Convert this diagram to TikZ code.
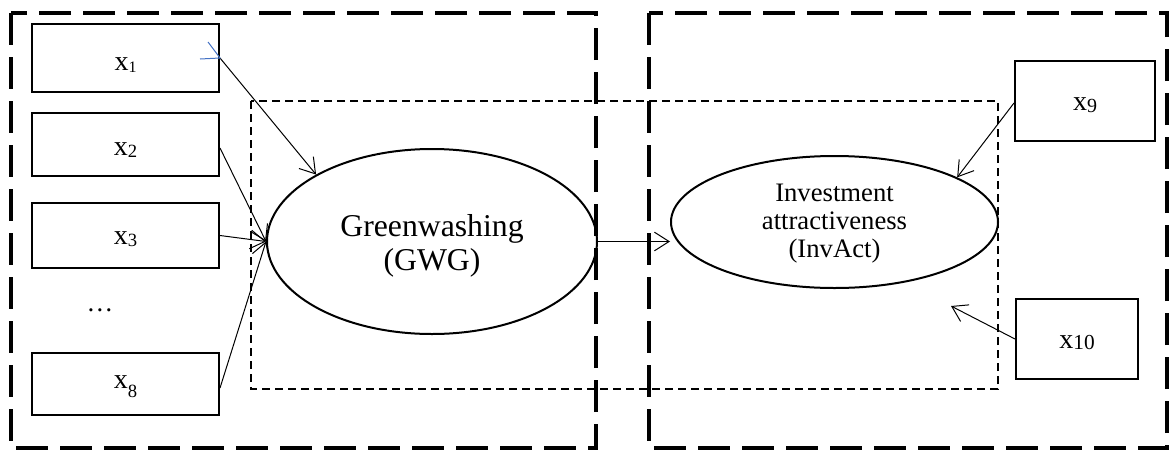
\documentclass[tikz,border=0pt]{standalone}
\usepackage{fontspec}
\setmainfont{Liberation Serif}
\usetikzlibrary{arrows.meta,shapes.geometric}
\definecolor{tickblue}{RGB}{68,114,196}
% #1 subscript, #2 subscript size, #3 subscript lowering, #4 baseline below centre
\newcommand{\xlab}[4]{\raisebox{-#4}[0pt][0pt]{\fontsize{21}{24}\selectfont x\raisebox{-#3}{\fontsize{#2}{#2}\selectfont #1}}}
\begin{document}
\begin{tikzpicture}[x=0.75pt,y=-0.75pt,
  var/.style={draw,line width=1.5pt,rectangle,inner sep=0pt},
  lat/.style={draw,line width=1.5pt,ellipse,inner sep=0pt},
  lattext/.style={align=center,inner sep=0pt},
  grp/.style={line width=3pt,dash pattern=on 24pt off 9pt},
  innergrp/.style={line width=1.3pt,dash pattern=on 6pt off 3.75pt},
  link/.style={line width=0.75pt,-{Straight Barb[length=11pt,width=14pt]}}]
\useasboundingbox (0,0) rectangle (1170,450);
% group boxes
\draw[grp] (11,13) rectangle (596,448);
\draw[grp] (649,13) rectangle (1167,448);
\draw[innergrp] (251,101) rectangle (998,389);
% indicator boxes
\node[var,minimum width=140.25pt,minimum height=51pt] (x1) at (125.5,58) {\xlab{1}{12}{1.5pt}{9.5pt}};
\node[var,minimum width=140.25pt,minimum height=47.25pt] (x2) at (125.5,144.5) {\xlab{2}{14}{1.5pt}{7.9pt}};
\node[var,minimum width=140.25pt,minimum height=48.75pt] (x3) at (125.5,235.5) {\xlab{3}{14}{1.5pt}{6.4pt}};
\node (dots) at (100,310) {\fontsize{20}{24}\selectfont …};
\node[var,minimum width=140.25pt,minimum height=46.5pt] (x8) at (125.5,384) {\xlab{8}{14}{7pt}{3pt}};
\node[var,minimum width=105pt,minimum height=60pt] (x9) at (1085,101) {\xlab{9}{15}{2pt}{6.75pt}};
\node[var,minimum width=91.5pt,minimum height=60pt] (x10) at (1077,339) {\xlab{10}{16}{1pt}{6.75pt}};
% latent variables
\node[lat,minimum width=247.5pt,minimum height=138.75pt,
  label={[lattext,yshift=-3pt,font=\fontsize{23.8}{25.5}\selectfont]center:Greenwashing\\(GWG)}] (gwg) at (432,241.5) {};
\node[lat,minimum width=245.25pt,minimum height=99pt,
  label={[lattext,yshift=-1.5pt,font=\fontsize{20}{21}\selectfont]center:Investment\\attractiveness\\(InvAct)}] (inv) at (834.5,222) {};
\coordinate (x10end) at (951,306);
% connectors
\draw[link] (x1.east) -- (gwg.150);
\draw[link] (x2.east |- 0,148) -- (gwg.west);
\draw[link] (x3.east) -- (gwg.west);
\draw[link] (x8.east |- 0,388) -- (gwg.west);
\draw[link] (gwg.east) -- (gwg.east -| inv.west);
\draw[link] (x9.west |- 0,103) -- (inv.20);
\draw[link] (x10.west) -- (x10end);
% blue tick on x1
\draw[tickblue,line width=0.75pt] ([xshift=-15pt,yshift=-0.75pt]x1.east) -- (x1.east) -- ++(-9pt,12pt);
\end{tikzpicture}
\end{document}
